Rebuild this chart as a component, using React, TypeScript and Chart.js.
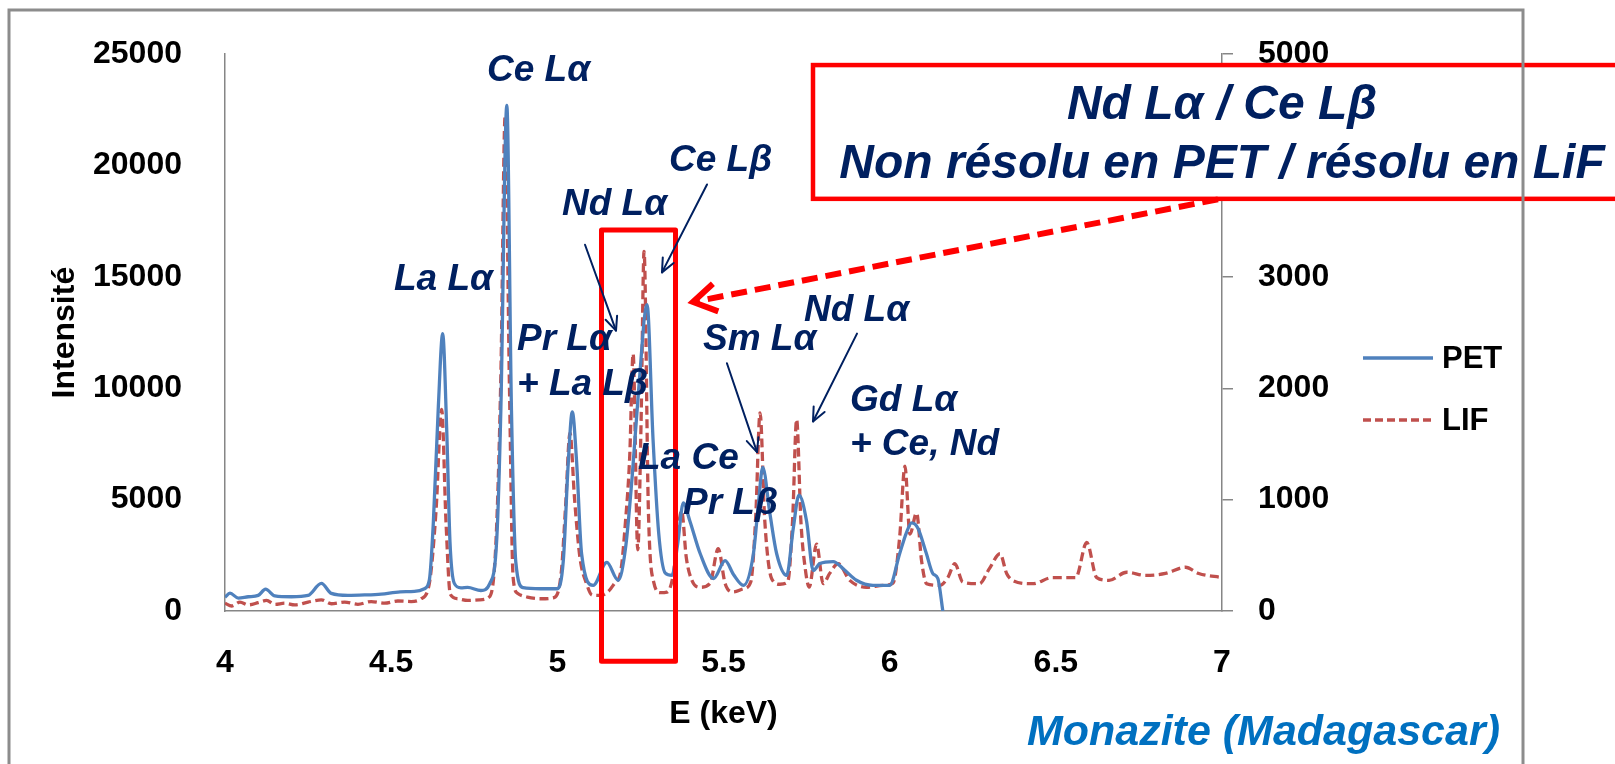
import { useEffect, useRef } from "react";
import { Chart, registerables } from "chart.js";

Chart.register(...registerables);

// PET spectrometer: energy (keV) and intensity (left axis)
const petEnergy = [
  4.0, 4.015, 4.04, 4.07, 4.1, 4.122, 4.15, 4.2, 4.25, 4.29, 4.32, 4.37, 4.42, 4.47, 4.527, 4.57, 4.6,
  4.615, 4.627, 4.642, 4.655, 4.667, 4.677, 4.69, 4.71, 4.73, 4.77, 4.797, 4.818, 4.83, 4.848, 4.862,
  4.875, 4.897, 4.95, 5.0, 5.018, 5.033, 5.045, 5.058, 5.073, 5.108, 5.149, 5.183, 5.205, 5.225, 5.245,
  5.27, 5.288, 5.305, 5.325, 5.345, 5.362, 5.379, 5.399, 5.43, 5.47, 5.505, 5.53, 5.56, 5.59, 5.605,
  5.618, 5.64, 5.66, 5.69, 5.71, 5.727, 5.75, 5.77, 5.79, 5.83, 5.86, 5.9, 5.95, 6.0, 6.03, 6.05, 6.066,
  6.085, 6.11, 6.13, 6.145, 6.16,
];
const petCounts = [
  620, 800, 580, 640, 700, 980, 680, 640, 700, 1240, 790, 700, 720, 760, 860, 880, 1000,
  1400, 4000, 9200, 12450, 8200, 3100, 1240, 1040, 1060, 920, 1240, 3300, 9000, 22700, 9000,
  2200, 1050, 1000, 1000, 2260, 6700, 8940, 6700, 2570, 1150, 2180, 1380, 2800, 6000, 10000,
  13750, 7700, 3500, 1700, 1600, 3000, 4850, 4030, 2570, 1460, 2260, 1640, 1150, 2570, 4800,
  6450, 4340, 2570, 1600, 3720, 5200, 4030, 1820, 2130, 2220, 1900, 1380, 1150, 1150, 2570, 3500, 3960,
  3720, 2600, 1680, 1460, 0,
];

// LiF spectrometer: energy (keV) and intensity (right axis)
const lifEnergy = [
  4.0, 4.02, 4.045, 4.07, 4.1, 4.125, 4.15, 4.18, 4.21, 4.25, 4.29, 4.32, 4.36, 4.4, 4.44, 4.48, 4.52,
  4.56, 4.59, 4.615, 4.635, 4.652, 4.665, 4.678, 4.7, 4.73, 4.765, 4.795, 4.815, 4.83, 4.843, 4.856,
  4.867, 4.88, 4.91, 4.95, 4.99, 5.012, 5.025, 5.038, 5.052, 5.068, 5.088, 5.105, 5.13, 5.153, 5.175,
  5.19, 5.205, 5.218, 5.228, 5.242, 5.252, 5.261, 5.274, 5.29, 5.31, 5.33, 5.35, 5.362, 5.374, 5.388,
  5.405, 5.43, 5.46, 5.484, 5.505, 5.53, 5.56, 5.582, 5.597, 5.61, 5.624, 5.645, 5.67, 5.693, 5.708,
  5.72, 5.733, 5.746, 5.758, 5.78, 5.8, 5.82, 5.845, 5.88, 5.93, 5.98, 6.01, 6.03, 6.046, 6.061, 6.081,
  6.096, 6.111, 6.15, 6.175, 6.196, 6.22, 6.27, 6.3, 6.332, 6.352, 6.37, 6.43, 6.49, 6.56, 6.593,
  6.623, 6.66, 6.713, 6.77, 6.83, 6.89, 6.93, 7.0,
];
const lifCounts = [
  70, 45, 80, 55, 75, 95, 60, 70, 55, 80, 100, 65, 80, 60, 85, 70, 90,
  85, 110, 250, 900, 1810, 800, 150, 110, 95, 100, 125, 600, 2100, 4450, 2000,
  300, 160, 125, 110, 120, 350, 950, 1600, 1000, 480, 245, 142, 140, 175, 260,
  340, 800, 1400, 2310, 550, 1700, 3230, 900, 260, 165, 170, 350, 700, 900, 480,
  275, 213, 250, 560, 245, 171, 200, 260, 850, 1780, 820, 290, 240, 260, 820,
  1720, 800, 380, 215, 600, 245, 340, 425, 275, 213, 230, 250, 660, 1300, 690, 880,
  450, 245, 230, 300, 425, 260, 245, 380, 514, 337, 275, 245, 300, 300, 615,
  300, 275, 348, 320, 337, 393, 337, 300,
];

const energyTicks = [4, 4.5, 5, 5.5, 6, 6.5, 7];
const petTicks = [0, 5000, 10000, 15000, 20000, 25000];
const lifTicks = [0, 1000, 2000, 3000, 4000, 5000];

// Line identifications, anchored at [energy, PET intensity] (left end of the text baseline)
const peakLabels: [string, number, number][] = [
  ["La Lα", 4.5085, 14406],
  ["Ce Lα", 4.7884, 23803],
  ["Ce Lβ", 5.336, 19770],
  ["Nd Lα", 5.014, 17775],
  ["Pr Lα", 4.8786, 11702],
  ["+ La Lβ", 4.8786, 9707],
  ["La Ce", 5.2427, 6383],
  ["Pr Lβ", 5.3781, 4344],
  ["Sm Lα", 5.4383, 11702],
  ["Nd Lα", 5.7422, 13032],
  ["Gd Lα", 5.8806, 8998],
  ["+ Ce, Nd", 5.8806, 7004],
];

// Pointers from a label to its peak: [energy0, intensity0, energy1, intensity1]
const peakPointers: [number, number, number, number][] = [
  [5.0833, 16445, 5.1765, 12589],
  [5.4504, 19149, 5.3149, 15204],
  [5.5103, 11126, 5.6008, 7136],
  [5.9017, 12456, 5.7693, 8511],
];

// Highlighted Nd Lα / Ce Lβ window: [energyMin, energyMax, intensityTop, intensityBottom]
const overlapWindow = [5.1329, 5.3556, 17110, -2261];
// Callout: box [energyLeft, intensityTop, intensityBottom], text lines, pointer
const calloutBox = [5.7693, 24512, 18506];
const calloutLines: [string, number, number][] = [
  ["Nd Lα / Ce Lβ", 7.0, 22074],
  ["Non résolu en PET / résolu en LiF", 7.0, 19459],
];
const calloutPointer = [6.988, 18484, 5.4082, 13874];

const seriesNames = ["PET", "LIF"];
const sampleName = "Monazite (Madagascar)";

const NAVY = "#002060";
const RED = "#ff0000";
const PET_COLOR = "#4f81bd";
const LIF_COLOR = "#c0504d";
const AXIS_GREY = "#868686";
const FAMILY = "'Liberation Sans', Arial, Helvetica, sans-serif";
const axisFont = { family: FAMILY, size: 32, weight: "bold" as const };

function drawArrow(
  ctx: CanvasRenderingContext2D,
  x0: number, y0: number, x1: number, y1: number,
  head: number, spread: number,
) {
  ctx.beginPath();
  ctx.moveTo(x0, y0);
  ctx.lineTo(x1, y1);
  ctx.stroke();
  const ang = Math.atan2(y0 - y1, x0 - x1);
  ctx.setLineDash([]);
  ctx.beginPath();
  ctx.moveTo(x1 + head * Math.cos(ang + spread), y1 + head * Math.sin(ang + spread));
  ctx.lineTo(x1, y1);
  ctx.lineTo(x1 + head * Math.cos(ang - spread), y1 + head * Math.sin(ang - spread));
  ctx.stroke();
}

const decorations = {
  id: "decorations",
  afterDraw(chart: Chart) {
    const { ctx } = chart;
    const xs = chart.scales.x;
    const ys = chart.scales.y;
    const px = (e: number) => xs.getPixelForValue(e);
    const py = (v: number) => ys.getPixelForValue(v);
    ctx.save();

    // highlighted window around the unresolved doublet
    const [we0, we1, wv0, wv1] = overlapWindow;
    ctx.strokeStyle = RED;
    ctx.lineWidth = 5;
    ctx.lineJoin = "round";
    ctx.strokeRect(px(we0), py(wv0), px(we1) - px(we0), py(wv1) - py(wv0));

    // pointers from labels to peaks
    ctx.strokeStyle = NAVY;
    ctx.lineWidth = 2;
    ctx.lineCap = "round";
    for (const [e0, v0, e1, v1] of peakPointers) {
      drawArrow(ctx, px(e0), py(v0), px(e1), py(v1), 15, 0.42);
    }

    // line labels
    ctx.fillStyle = NAVY;
    ctx.font = `italic bold 37px ${FAMILY}`;
    ctx.textAlign = "left";
    ctx.textBaseline = "alphabetic";
    for (const [text, e, v] of peakLabels) ctx.fillText(text, px(e), py(v));

    // callout box
    const [be, bTop, bBottom] = calloutBox;
    const bx = px(be);
    const by0 = py(bTop);
    const by1 = py(bBottom);
    ctx.fillStyle = "#ffffff";
    ctx.fillRect(bx, by0, chart.width - bx + 20, by1 - by0);
    ctx.strokeStyle = RED;
    ctx.lineWidth = 4.5;
    ctx.lineJoin = "miter";
    ctx.strokeRect(bx, by0, chart.width - bx + 20, by1 - by0);
    ctx.fillStyle = NAVY;
    ctx.font = `italic bold 48px ${FAMILY}`;
    ctx.textAlign = "center";
    for (const [text, e, v] of calloutLines) ctx.fillText(text, px(e), py(v));

    // dashed callout pointer
    const [ce0, cv0, ce1, cv1] = calloutPointer;
    ctx.strokeStyle = RED;
    ctx.lineWidth = 6;
    ctx.lineCap = "butt";
    ctx.setLineDash([16, 8]);
    drawArrow(ctx, px(ce0), py(cv0), px(ce1), py(cv1), 27, 0.55);
    ctx.setLineDash([]);

    // sample name
    ctx.fillStyle = "#0070c0";
    ctx.font = `italic bold 43px ${FAMILY}`;
    ctx.textAlign = "right";
    ctx.fillText(sampleName, 1500, 745);

    // legend
    const legendRows: [string, string, number[], number][] = [
      [seriesNames[0], PET_COLOR, [], 358],
      [seriesNames[1], LIF_COLOR, [8, 4], 420],
    ];
    ctx.font = `bold 31px ${FAMILY}`;
    ctx.textAlign = "left";
    ctx.textBaseline = "middle";
    for (const [name, color, dash, y] of legendRows) {
      ctx.strokeStyle = color;
      ctx.lineWidth = 3.3;
      ctx.setLineDash(dash);
      ctx.beginPath();
      ctx.moveTo(1363, y);
      ctx.lineTo(1433, y);
      ctx.stroke();
      ctx.setLineDash([]);
      ctx.fillStyle = "#000000";
      ctx.fillText(name, 1442, y + 1);
    }

    // outer frame
    ctx.strokeStyle = "#8c8c8c";
    ctx.lineWidth = 3;
    ctx.strokeRect(9, 10, 1514, 800);
    ctx.restore();
  },
};

export default function App() {
  const canvasRef = useRef<HTMLCanvasElement>(null);

  useEffect(() => {
    const canvas = canvasRef.current;
    if (!canvas) return;
    Chart.defaults.font.family = FAMILY;
    const chart = new Chart(canvas, {
      type: "line",
      data: {
        datasets: [
          {
            label: seriesNames[0],
            data: petEnergy.map((e, i) => ({ x: e, y: petCounts[i] })),
            borderColor: PET_COLOR,
            borderWidth: 3.3,
            pointRadius: 0,
            cubicInterpolationMode: "monotone",
            yAxisID: "y",
          },
          {
            label: seriesNames[1],
            data: lifEnergy.map((e, i) => ({ x: e, y: lifCounts[i] })),
            borderColor: LIF_COLOR,
            borderWidth: 3.3,
            borderDash: [9, 4.5],
            pointRadius: 0,
            cubicInterpolationMode: "monotone",
            yAxisID: "y1",
          },
        ],
      },
      options: {
        animation: false,
        responsive: false,
        layout: { padding: { top: 47, left: 0, right: 243, bottom: 0 } },
        plugins: { legend: { display: false }, tooltip: { enabled: false } },
        scales: {
          x: {
            type: "linear",
            min: 4,
            max: 7,
            afterBuildTicks: (s: any) => {
              s.ticks = energyTicks.map((value) => ({ value }));
            },
            afterFit: (s: any) => {
              s.height = 153;
            },
            ticks: {
              font: axisFont,
              color: "#000000",
              padding: 25,
              maxRotation: 0,
              autoSkip: false,
              callback: (v: any) => String(v),
            },
            grid: { display: false },
            border: { color: AXIS_GREY, width: 1.5 },
            title: {
              display: true,
              text: "E (keV)",
              font: axisFont,
              color: "#000000",
              padding: { top: 0, bottom: 31 },
            },
          },
          y: {
            type: "linear",
            position: "left",
            min: 0,
            max: 25000,
            afterBuildTicks: (s: any) => {
              s.ticks = petTicks.map((value) => ({ value }));
            },
            afterFit: (s: any) => {
              s.width = 225;
            },
            ticks: {
              font: axisFont,
              color: "#000000",
              padding: 35,
              callback: (v: any) => String(v),
            },
            grid: { display: false },
            border: { color: AXIS_GREY, width: 1.5 },
            title: {
              display: true,
              text: "Intensité",
              font: axisFont,
              color: "#000000",
              padding: { top: 46, bottom: 0 },
            },
          },
          y1: {
            type: "linear",
            position: "right",
            min: 0,
            max: 5000,
            afterBuildTicks: (s: any) => {
              s.ticks = lifTicks.map((value) => ({ value }));
            },
            afterFit: (s: any) => {
              s.width = 150;
            },
            ticks: {
              font: axisFont,
              color: "#000000",
              padding: 25,
              callback: (v: any) => String(v),
            },
            grid: {
              display: true,
              drawOnChartArea: false,
              drawTicks: true,
              tickLength: 11,
              color: AXIS_GREY,
              lineWidth: 1.5,
            },
            border: { color: AXIS_GREY, width: 1.5 },
          },
        },
      },
      plugins: [decorations],
    });
    return () => chart.destroy();
  }, []);

  return (
    <canvas
      ref={canvasRef}
      width={1615}
      height={764}
      style={{ position: "fixed", left: 0, top: 0, display: "block", background: "#ffffff" }}
    />
  );
}
